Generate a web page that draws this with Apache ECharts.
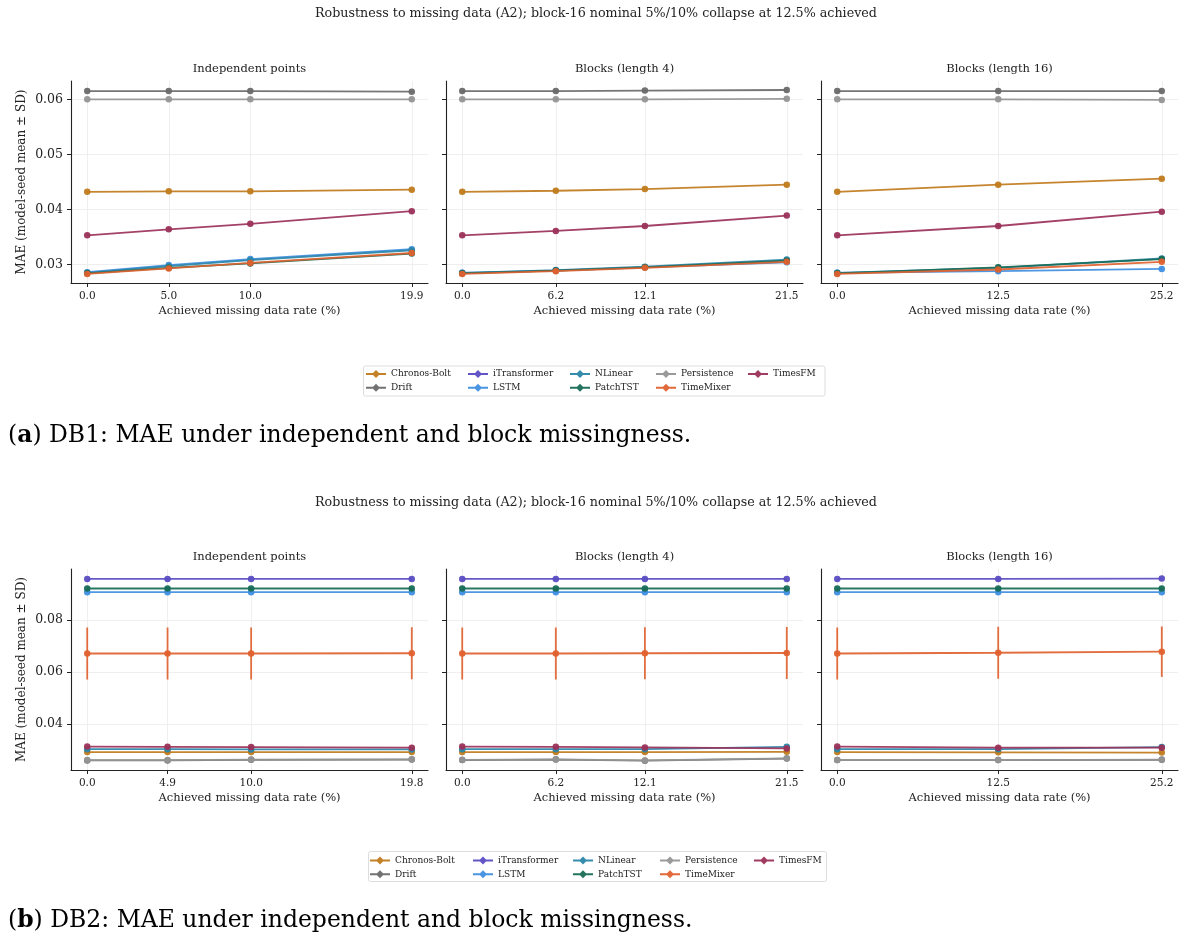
<!DOCTYPE html>
<html><head><meta charset="utf-8">
<script src="https://cdn.jsdelivr.net/npm/echarts@6/dist/echarts.min.js"></script>
<style>html,body{margin:0;padding:0;background:#fff}#c{width:1187px;height:947px}</style>
</head><body><div id="c"></div>
<script>
// ---------- data ----------
const MODELS = ['Chronos-Bolt','Drift','iTransformer','LSTM','NLinear','PatchTST','Persistence','TimeMixer','TimesFM'];

const db1IndepRate   = [0.0, 5.0, 10.0, 19.9];
const db1Block4Rate  = [0.0, 6.2, 12.1, 21.5];
const db1Block16Rate = [0.0, 12.5, 25.2];
const db2IndepRate   = [0.0, 4.9, 10.0, 19.8];
const db2Block4Rate  = [0.0, 6.2, 12.1, 21.5];
const db2Block16Rate = [0.0, 12.5, 25.2];

// rows follow MODELS order
const db1IndepMAE = [
  [0.0432, 0.0433, 0.0433, 0.0436],
  [0.0615, 0.0615, 0.0615, 0.0614],
  [null, null, null, null],
  [0.0286, 0.0299, 0.0310, 0.0328],
  [0.0285, 0.0297, 0.0308, 0.0326],
  [0.0284, 0.0294, 0.0302, 0.0320],
  [0.0600, 0.0600, 0.0600, 0.0600],
  [0.0283, 0.0293, 0.0303, 0.0321],
  [0.0353, 0.0364, 0.0374, 0.0397]
];
const db1Block4MAE = [
  [0.0432, 0.0434, 0.0437, 0.0445],
  [0.0615, 0.0615, 0.0616, 0.0617],
  [null, null, null, null],
  [0.0285, 0.0289, 0.0295, 0.0304],
  [0.0285, 0.0290, 0.0296, 0.0309],
  [0.0284, 0.0289, 0.0295, 0.0307],
  [0.0600, 0.0600, 0.0600, 0.0601],
  [0.0283, 0.0288, 0.0294, 0.0305],
  [0.0353, 0.0361, 0.0370, 0.0389]
];
const db1Block16MAE = [
  [0.0432, 0.0445, 0.0456],
  [0.0615, 0.0615, 0.0615],
  [null, null, null],
  [0.0285, 0.0288, 0.0292],
  [0.0285, 0.0294, 0.0311],
  [0.0284, 0.0295, 0.0310],
  [0.0600, 0.0600, 0.0599],
  [0.0283, 0.0291, 0.0305],
  [0.0353, 0.0370, 0.0396]
];
const db2IndepMAE = [
  [0.0293, 0.0293, 0.0293, 0.0293],
  [0.0261, 0.0261, 0.0263, 0.0264],
  [0.0959, 0.0959, 0.0959, 0.0959],
  [0.0908, 0.0908, 0.0908, 0.0908],
  [0.0304, 0.0304, 0.0303, 0.0303],
  [0.0922, 0.0922, 0.0922, 0.0922],
  [0.0262, 0.0262, 0.0264, 0.0265],
  [0.0672, 0.0672, 0.0672, 0.0673],
  [0.0314, 0.0313, 0.0312, 0.0310]
];
const db2Block4MAE = [
  [0.0293, 0.0293, 0.0293, 0.0294],
  [0.0262, 0.0264, 0.0260, 0.0268],
  [0.0959, 0.0959, 0.0959, 0.0959],
  [0.0908, 0.0908, 0.0908, 0.0908],
  [0.0304, 0.0304, 0.0304, 0.0313],
  [0.0922, 0.0922, 0.0922, 0.0922],
  [0.0263, 0.0265, 0.0261, 0.0269],
  [0.0672, 0.0672, 0.0673, 0.0674],
  [0.0314, 0.0313, 0.0311, 0.0307]
];
const db2Block16MAE = [
  [0.0293, 0.0292, 0.0291],
  [0.0262, 0.0262, 0.0263],
  [0.0959, 0.0959, 0.0960],
  [0.0908, 0.0908, 0.0908],
  [0.0304, 0.0304, 0.0312],
  [0.0922, 0.0922, 0.0922],
  [0.0262, 0.0262, 0.0264],
  [0.0672, 0.0675, 0.0679],
  [0.0314, 0.0310, 0.0310]
];
// TimeMixer model-seed SD (DB2; DB1 SDs are negligible)
const db2IndepTimeMixerSD   = [0.0100, 0.0100, 0.0100, 0.0100];
const db2Block4TimeMixerSD  = [0.0100, 0.0100, 0.0100, 0.0100];
const db2Block16TimeMixerSD = [0.0100, 0.0100, 0.0097];

const db1YTicks = [0.03, 0.04, 0.05, 0.06];
const db2YTicks = [0.04, 0.06, 0.08];
const PANEL_TITLES = ['Independent points', 'Blocks (length 4)', 'Blocks (length 16)'];

// ---------- style ----------
const COLORS = ['#c07b1c','#6a6a6a','#5a4cc2','#3f8fe0','#2b86a9','#176c56','#959595','#e0612e','#9b3159'];
const FONT = '"DejaVu Serif", serif';
const INK = '#222';
const FIG = [
  {top: 81, h: 202, ymin: 0.02665, ymax: 0.06333, yt: db1YTicks, sup: 14, sub: 69, cap: 436, capLabel: 'a', db: 'DB1',
   legTop: 369, legCols: [366, 468, 570, 656, 748], box: [363.5, 366, 461.5, 30]},
  {top: 569, h: 201, ymin: 0.0224, ymax: 0.0997, yt: db2YTicks, sup: 503, sub: 557, cap: 921, capLabel: 'b', db: 'DB2',
   legTop: 855.5, legCols: [370, 473, 573, 660, 754], box: [368.5, 851.5, 458, 30]}
];
const GRID_L = [71, 446, 821];
const GRID_W = 357;

const panels = [
  {f: 0, c: 0, x: db1IndepRate,   y: db1IndepMAE},
  {f: 0, c: 1, x: db1Block4Rate,  y: db1Block4MAE},
  {f: 0, c: 2, x: db1Block16Rate, y: db1Block16MAE},
  {f: 1, c: 0, x: db2IndepRate,   y: db2IndepMAE,   sd: db2IndepTimeMixerSD},
  {f: 1, c: 1, x: db2Block4Rate,  y: db2Block4MAE,  sd: db2Block4TimeMixerSD},
  {f: 1, c: 2, x: db2Block16Rate, y: db2Block16MAE, sd: db2Block16TimeMixerSD}
];

const grid = [], xAxis = [], yAxis = [], series = [], graphic = [], legend = [];

panels.forEach((p, i) => {
  const F = FIG[p.f];
  grid.push({left: GRID_L[p.c], top: F.top, width: GRID_W, height: F.h, containLabel: false, outerBoundsMode: 'none'});
  const xmax = p.x[p.x.length - 1];
  xAxis.push({
    type: 'value', gridIndex: i, min: -0.05 * xmax, max: 1.05 * xmax,
    axisLine: {show: true, onZero: false, lineStyle: {color: INK, width: 1.1}},
    axisTick: {show: true, customValues: p.x, length: 4, lineStyle: {color: INK, width: 1}},
    axisLabel: {show: true, customValues: p.x, formatter: v => v.toFixed(1), margin: 8,
      fontSize: 10.5, fontFamily: FONT, color: INK},
    splitLine: {show: true, lineStyle: {color: '#ebebeb', width: 0.8}},
    name: 'Achieved missing data rate (%)', nameLocation: 'middle', nameGap: 22,
    nameTextStyle: {fontSize: 11.5, fontFamily: FONT, color: INK}
  });
  yAxis.push({
    type: 'value', gridIndex: i, min: F.ymin, max: F.ymax,
    axisLine: {show: true, onZero: false, lineStyle: {color: INK, width: 1.1}},
    axisTick: {show: true, customValues: F.yt, length: 4, lineStyle: {color: INK, width: 1}},
    axisLabel: {show: p.c === 0, customValues: F.yt, formatter: v => v.toFixed(2), margin: 8,
      fontSize: 12.5, fontFamily: FONT, color: INK},
    splitLine: {show: true, lineStyle: {color: '#ebebeb', width: 0.8}},
    name: p.c === 0 ? 'MAE (model-seed mean \u00b1 SD)' : '', nameLocation: 'middle', nameGap: 43,
    nameTextStyle: {fontSize: 12, fontFamily: FONT, color: INK}
  });
  MODELS.forEach((m, k) => {
    const data = [];
    p.x.forEach((xv, j) => { if (p.y[k][j] != null) data.push([xv, p.y[k][j]]); });
    series.push({
      type: 'line', name: m, xAxisIndex: i, yAxisIndex: i, data: data,
      color: COLORS[k], symbol: 'circle', symbolSize: 6.5, showSymbol: true,
      lineStyle: {width: 1.8, color: COLORS[k], opacity: 0.92},
      itemStyle: {color: COLORS[k], opacity: 0.95},
      z: 3 + k * 0.01, animation: false, silent: true
    });
  });
  if (p.sd) {
    const k = MODELS.indexOf('TimeMixer');
    series.push({
      type: 'custom', xAxisIndex: i, yAxisIndex: i,
      data: p.x.map((xv, j) => [xv, p.y[k][j], p.sd[j]]),
      encode: {x: 0, y: 1},
      renderItem: (params, api) => {
        const xv = api.value(0), mv = api.value(1), s = api.value(2);
        const a = api.coord([xv, mv - s]), b = api.coord([xv, mv + s]);
        return {type: 'line', shape: {x1: a[0], y1: a[1], x2: b[0], y2: b[1]},
          style: {stroke: COLORS[k], lineWidth: 1.8, opacity: 0.92}};
      },
      z: 3, animation: false, silent: true
    });
  }
  graphic.push({type: 'text', x: GRID_L[p.c] + GRID_W / 2, y: F.sub,
    style: {text: PANEL_TITLES[p.c], fontSize: 11.5, fontFamily: FONT, fill: INK,
      align: 'center', verticalAlign: 'middle', textAlign: 'center', textVerticalAlign: 'middle'}});
});

const LEG_COLS = [['Chronos-Bolt','Drift'], ['iTransformer','LSTM'], ['NLinear','PatchTST'], ['Persistence','TimeMixer'], ['TimesFM']];
const LEG_ICON = 'path://M0,3h20v2h-20z M10,0L14,4L10,8L6,4z';

FIG.forEach((F, fi) => {
  graphic.push({type: 'text', x: 596, y: F.sup,
    style: {text: 'Robustness to missing data (A2); block-16 nominal 5%/10% collapse at 12.5% achieved',
      fontSize: 12.7, fontFamily: FONT, fill: INK,
      align: 'center', verticalAlign: 'middle', textAlign: 'center', textVerticalAlign: 'middle'}});
  graphic.push({type: 'text', x: 8, y: F.cap,
    style: {text: '({b|' + F.capLabel + '}) ' + F.db + ': MAE under independent and block missingness.',
      fontSize: 23.5, fontFamily: FONT, fill: '#000',
      rich: {b: {fontSize: 23.5, fontFamily: FONT, fontWeight: 'bold', fill: '#000', color: '#000'}},
      align: 'left', verticalAlign: 'middle', textAlign: 'left', textVerticalAlign: 'middle'}});
  graphic.push({type: 'rect', z: -1,
    shape: {x: F.box[0], y: F.box[1], width: F.box[2], height: F.box[3], r: 2},
    style: {fill: '#fff', stroke: '#d4d4d4', lineWidth: 0.8}});
  LEG_COLS.forEach((names, ci) => {
    legend.push({
      orient: 'vertical', left: F.legCols[ci], top: F.legTop, padding: 0,
      itemWidth: 20, itemHeight: 8, itemGap: 3.7, icon: LEG_ICON, selectedMode: false,
      textStyle: {fontSize: 9, fontFamily: FONT, color: INK, lineHeight: 10},
      data: names
    });
  });
});

const chart = echarts.init(document.getElementById('c'), null, {renderer: 'canvas'});
chart.setOption({
  backgroundColor: '#fff', animation: false,
  grid, xAxis, yAxis, series, legend, graphic,
  tooltip: {show: false}
});
</script></body></html>
